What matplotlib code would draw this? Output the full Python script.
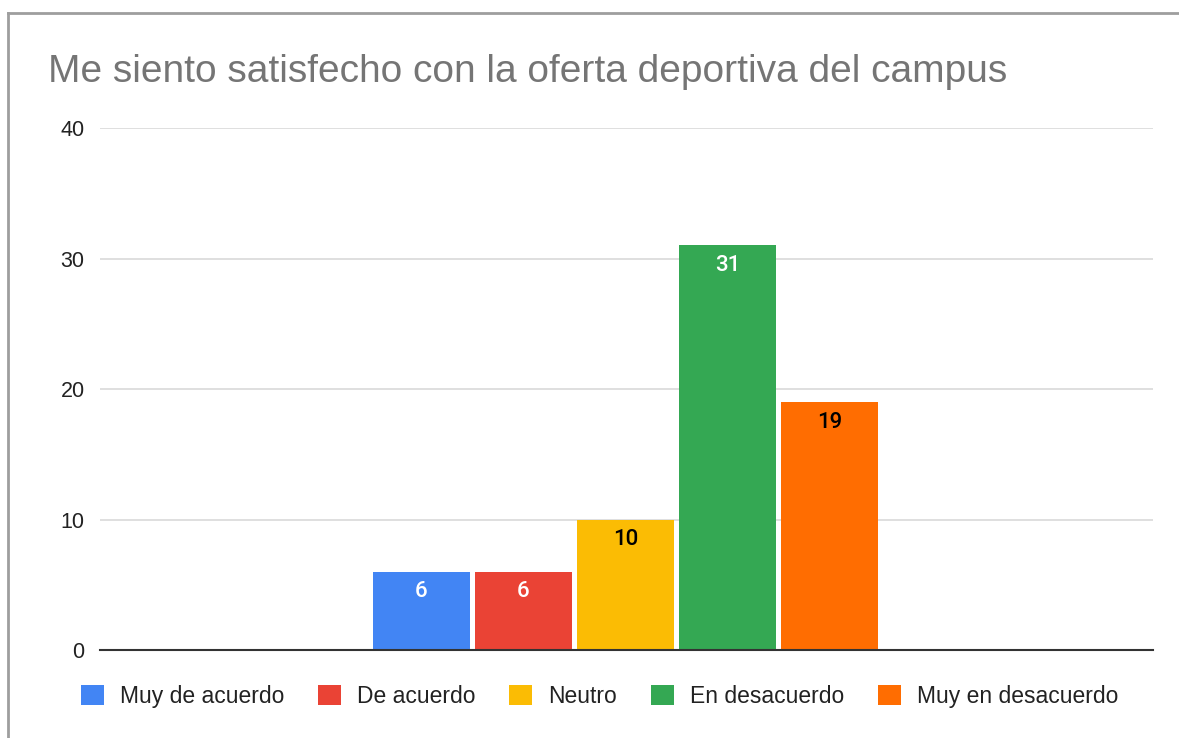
import matplotlib.pyplot as plt
from matplotlib.lines import Line2D

# Datos de la encuesta
categorias = ["Muy de acuerdo", "De acuerdo", "Neutro", "En desacuerdo", "Muy en desacuerdo"]
valores = [6, 6, 10, 31, 19]
colores = ["#4285F4", "#EA4335", "#FBBC04", "#34A853", "#FF6D01"]
color_etiqueta = ["white", "white", "black", "white", "black"]
ticks_y = [0, 10, 20, 30, 40]

plt.rcParams["font.family"] = ["Liberation Sans", "DejaVu Sans"]

fig = plt.figure(figsize=(11.79, 7.38), dpi=100)
ax = fig.add_axes([0.0848, 0.1192, 0.8932, 0.7073])

# Borde del gráfico (arriba e izquierda)
fig.add_artist(Line2D([8 / 1179, 8 / 1179], [0, 1 - 13 / 738], color="#9e9e9e", lw=2))
fig.add_artist(Line2D([8 / 1179, 1], [1 - 13 / 738, 1 - 13 / 738], color="#9e9e9e", lw=2))

posiciones = list(range(len(categorias)))
barras = ax.bar(posiciones, valores, width=0.95, color=colores, label=categorias, zorder=3)

for x, v, c in zip(posiciones, valores, color_etiqueta):
    ax.annotate(str(v), (x, v), xytext=(0, -14.5), textcoords="offset points",
                ha="center", va="center", color=c, fontsize=16,
                family=["Roboto", "DejaVu Sans"], fontweight="medium", zorder=4)

ax.set_xlim(-3.15, 7.17)
ax.set_ylim(0, 40)
ax.set_yticks(ticks_y)
ax.set_xticks([])
ax.tick_params(axis="y", length=0, pad=11, labelsize=15.5, labelcolor="#222222")
ax.grid(axis="y", color="#d9d9d9", lw=1.2, zorder=0)
for lado in ["left", "right", "top"]:
    ax.spines[lado].set_visible(False)
ax.spines["bottom"].set_color("#333333")
ax.spines["bottom"].set_linewidth(1.5)
ax.spines["bottom"].set_zorder(5)

fig.text(48 / 1179, 1 - 72 / 738, "Me siento satisfecho con la oferta deportiva del campus",
         color="#757575", fontsize=28, va="center", ha="left")

fig.legend(handles=barras, labels=categorias, loc="center",
           bbox_to_anchor=(599.5 / 1179, 1 - 696.5 / 738), ncol=5, frameon=False,
           fontsize=16.5, labelcolor="#222222", handlelength=1.0, handleheight=1.0,
           handletextpad=0.7, columnspacing=1.48)

fig.savefig("out.png", dpi=100)
